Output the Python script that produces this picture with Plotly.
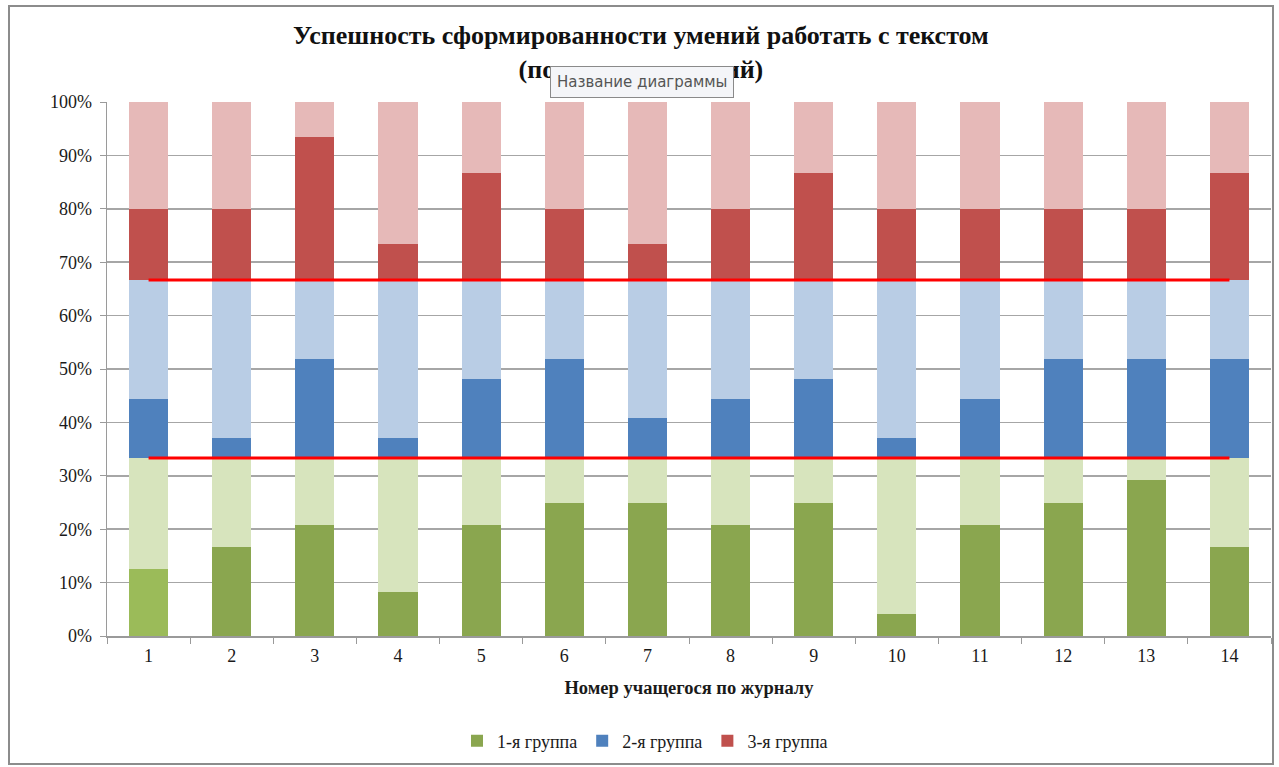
import plotly.graph_objects as go

# ---- data (percent of total) ----
students = [str(i) for i in range(1, 15)]
group1 = [12.5, 16.7, 20.8, 8.3, 20.8, 25.0, 25.0, 20.8, 25.0, 4.2, 20.8, 25.0, 29.2, 16.7]
group2 = [11.1, 3.7, 18.5, 3.7, 14.8, 18.5, 7.4, 11.1, 14.8, 3.7, 11.1, 18.5, 18.5, 18.5]
group3 = [13.3, 13.3, 26.7, 6.7, 20.0, 13.3, 6.7, 13.3, 20.0, 13.3, 13.3, 13.3, 13.3, 20.0]
share = 100.0 / 3  # each group's share of the bar
thresholds = [share, 2 * share]
series_names = ["1-я группа", "2-я группа", "3-я группа"]
title_text = "Успешность сформированности умений работать с текстом<br>(по группам умений)"
x_title = "Номер учащегося по журналу"
tooltip_text = "Название диаграммы"

# ---- styling ----
dark = ["#8AA64F", "#4F81BD", "#C0504D"]
light = ["#D7E4BD", "#B9CDE5", "#E6B9B8"]
first_green = "#9BBB59"
SERIF = "Liberation Serif, Times New Roman, serif"

W, H = 1279, 767
L, R, T, B = 107, 1271, 102, 636
pw, ph = R - L, B - T


def px(x):
    return (x - L) / pw


def py(y):
    return (B - y) / ph


fig = go.Figure()
groups = [group1, group2, group3]
for gi, vals in enumerate(groups):
    colors = [dark[gi]] * len(vals)
    if gi == 0:
        colors[0] = first_green
    # legend-only entry (zero height) so the legend swatch shows the series colour
    fig.add_trace(go.Bar(x=[students[0]], y=[0], name=series_names[gi],
                         marker=dict(color=dark[gi], line=dict(width=0)),
                         legendgroup=str(gi), showlegend=True, hoverinfo="skip"))
    fig.add_trace(go.Bar(x=students, y=vals, name=series_names[gi],
                         marker=dict(color=colors, line=dict(width=0)),
                         legendgroup=str(gi), showlegend=False))
    fig.add_trace(go.Bar(x=students, y=[share - v for v in vals],
                         marker=dict(color=light[gi], line=dict(width=0)),
                         legendgroup=str(gi), showlegend=False))

for th in thresholds:
    fig.add_trace(go.Scatter(x=students, y=[th] * len(students), mode="lines",
                             line=dict(color="#FF0000", width=3), showlegend=False,
                             hoverinfo="skip"))

fig.update_layout(
    width=W, height=H,
    barmode="stack", bargap=0.53,
    margin=dict(l=L, r=W - R, t=T, b=H - B, pad=0),
    paper_bgcolor="white", plot_bgcolor="white",
    font=dict(family=SERIF, size=17, color="#1a1a1a"),
    showlegend=True,
    legend=dict(orientation="h", x=px(645), y=py(741), xanchor="center", yanchor="middle",
                font=dict(family=SERIF, size=18, color="#1a1a1a"), traceorder="normal",
                itemwidth=30, bgcolor="rgba(0,0,0,0)"),
    xaxis=dict(type="category", showgrid=False, showline=True, linecolor="#9a9a9a", linewidth=1.5,
               ticks="outside", tickson="boundaries", ticklen=6, tickcolor="#9a9a9a",
               ticklabelstandoff=3,
               tickfont=dict(family=SERIF, size=18, color="#1a1a1a"),
               title=dict(text="<b>" + x_title + "</b>", font=dict(family=SERIF, size=18.5, color="#1a1a1a"),
                          standoff=16),
               fixedrange=True),
    yaxis=dict(range=[0, 100], dtick=10, ticksuffix="%", showgrid=True, gridcolor="#a6a6a6", gridwidth=1.5,
               showline=True, linecolor="#9a9a9a", linewidth=1.5, ticks="outside", ticklen=6,
               tickcolor="#9a9a9a", zeroline=False, ticklabelstandoff=4,
               tickfont=dict(family=SERIF, size=18, color="#1a1a1a"), fixedrange=True),
    shapes=[dict(type="rect", xref="paper", yref="paper",
                 x0=px(9), x1=px(1273), y0=py(764), y1=py(6),
                 line=dict(color="#8c8c8c", width=2), fillcolor="rgba(0,0,0,0)", layer="below")],
    annotations=[
        dict(text="<b>" + title_text + "</b>", xref="paper", yref="paper", x=px(641), y=py(52),
             xanchor="center", yanchor="middle", showarrow=False,
             font=dict(family=SERIF, size=26, color="#111111"), align="center"),
        dict(text=tooltip_text, xref="paper", yref="paper", x=px(642), y=py(82),
             xanchor="center", yanchor="middle", showarrow=False,
             font=dict(family="DejaVu Sans, Noto Sans, sans-serif", size=15, color="#555555"),
             bgcolor="#f4f5f8", bordercolor="#8a8a8a", borderwidth=1, borderpad=6),
    ],
)

fig.write_html("out.html", config={"displayModeBar": False, "staticPlot": True},
               post_script="document.body.style.margin='0px';document.body.style.overflow='hidden';")
